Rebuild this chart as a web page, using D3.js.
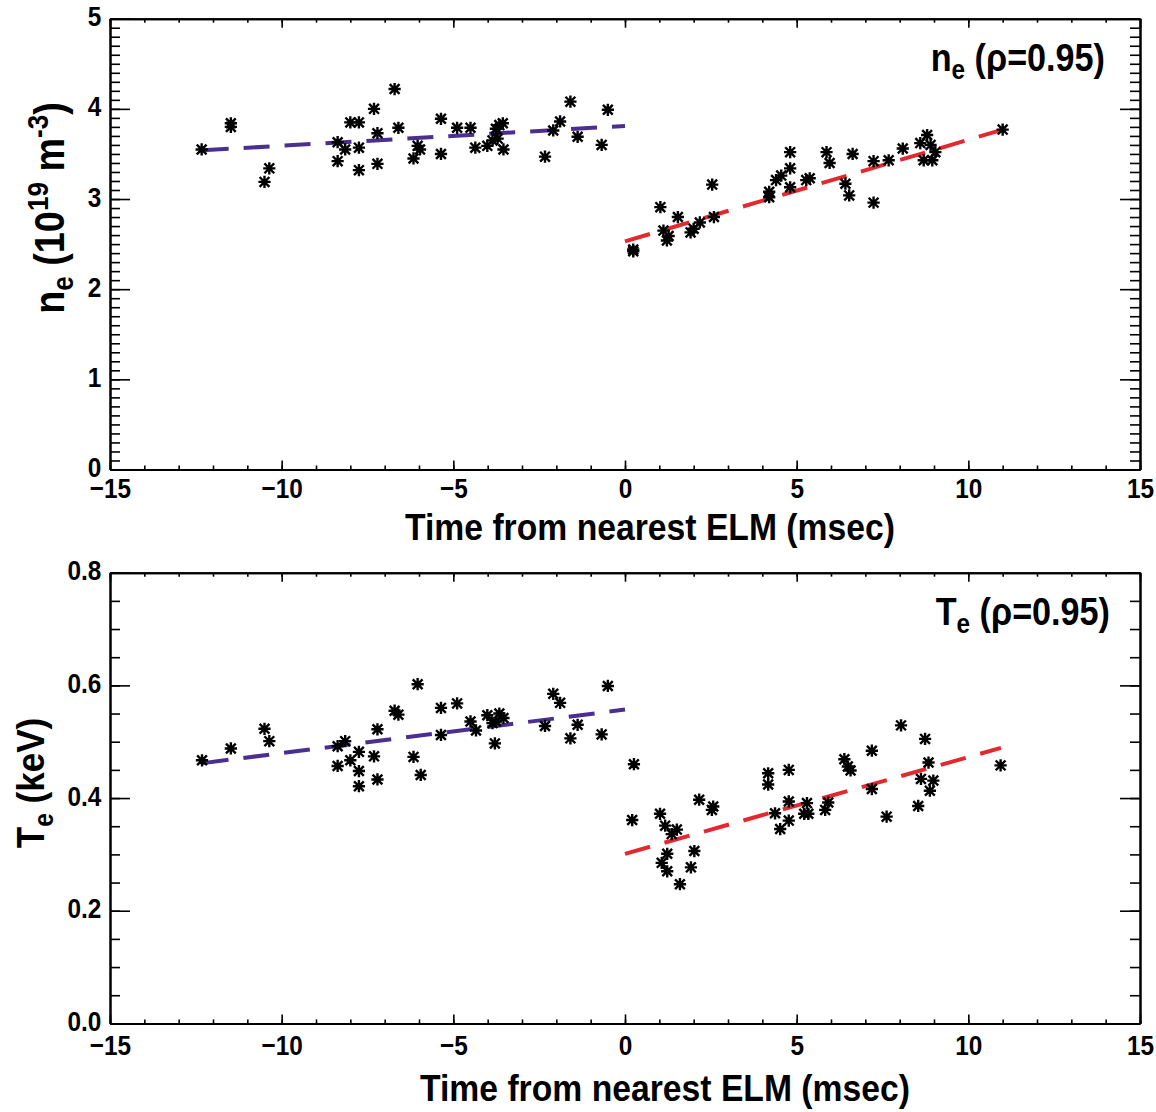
<!DOCTYPE html>
<html>
<head>
<meta charset="utf-8">
<script src="https://cdn.jsdelivr.net/npm/d3@7"></script>
<style>
  body { margin: 0; background: #fff; }
  text { font-family: "Liberation Sans", Arial, sans-serif; font-weight: bold; }
</style>
</head>
<body>
<script>
// time from nearest ELM (msec) and density (1e19 m^-3), before / after the ELM
const ne_pre_t = [-12.33, -11.48, -11.48, -10.50, -10.36, -8.37, -8.37, -8.15, -8.00, -7.75, -7.75, -7.75, -7.31, -7.21, -7.21, -6.71, -6.60, -6.16, -6.04, -5.97, -5.36, -5.36, -4.89, -4.50, -4.36, -4.01, -3.86, -3.76, -3.66, -3.56, -3.71, -3.54, -2.33, -2.09, -1.89, -1.59, -1.38, -0.68, -0.50];
const ne_pre   = [3.55, 3.80, 3.84, 3.19, 3.34, 3.42, 3.63, 3.55, 3.85, 3.85, 3.57, 3.32, 4.00, 3.73, 3.39, 4.22, 3.79, 3.45, 3.59, 3.55, 3.89, 3.50, 3.79, 3.79, 3.57, 3.59, 3.65, 3.78, 3.82, 3.84, 3.67, 3.55, 3.47, 3.76, 3.86, 4.08, 3.69, 3.60, 3.99];
const ne_post_t = [0.24, 0.24, 1.03, 1.12, 1.27, 1.22, 1.54, 1.91, 2.00, 2.18, 2.54, 2.59, 4.20, 4.20, 4.40, 4.55, 4.81, 4.81, 4.81, 5.28, 5.38, 5.87, 5.96, 6.42, 6.53, 6.63, 7.24, 7.24, 7.68, 8.09, 8.60, 8.80, 8.90, 8.70, 8.95, 9.04, 11.00];
const ne_post   = [2.44, 2.42, 2.91, 2.65, 2.59, 2.54, 2.80, 2.63, 2.67, 2.74, 3.16, 2.80, 3.08, 3.02, 3.21, 3.26, 3.52, 3.34, 3.13, 3.21, 3.23, 3.52, 3.40, 3.17, 3.04, 3.50, 3.42, 2.96, 3.43, 3.56, 3.62, 3.71, 3.60, 3.43, 3.43, 3.52, 3.77];

// electron temperature (keV)
const te_pre_t = [-12.32, -11.48, -10.50, -10.36, -8.37, -8.37, -8.15, -8.00, -7.75, -7.75, -7.75, -7.31, -7.21, -7.21, -6.71, -6.60, -6.16, -6.04, -5.95, -5.36, -5.36, -4.89, -4.50, -4.34, -4.01, -3.86, -3.66, -3.54, -3.79, -3.76, -2.33, -2.09, -1.89, -1.59, -1.38, -0.68, -0.50];
const te_pre   = [0.467, 0.488, 0.523, 0.501, 0.492, 0.457, 0.501, 0.467, 0.482, 0.448, 0.421, 0.474, 0.522, 0.433, 0.555, 0.548, 0.473, 0.602, 0.441, 0.560, 0.512, 0.568, 0.536, 0.520, 0.547, 0.533, 0.550, 0.542, 0.497, 0.536, 0.528, 0.585, 0.569, 0.506, 0.530, 0.513, 0.599];
const te_post_t = [0.26, 0.21, 1.02, 1.17, 1.36, 1.51, 1.23, 1.07, 1.23, 1.60, 1.92, 2.02, 2.16, 2.53, 2.57, 4.17, 4.17, 4.77, 4.37, 4.52, 4.77, 4.77, 5.22, 5.30, 5.34, 5.83, 5.92, 6.39, 6.49, 6.57, 7.19, 7.19, 7.62, 8.04, 8.74, 8.84, 8.62, 8.98, 8.88, 8.54, 10.94];
const te_post   = [0.460, 0.361, 0.372, 0.351, 0.336, 0.344, 0.301, 0.285, 0.270, 0.247, 0.277, 0.306, 0.397, 0.379, 0.385, 0.444, 0.424, 0.450, 0.373, 0.345, 0.394, 0.360, 0.372, 0.391, 0.372, 0.379, 0.392, 0.469, 0.456, 0.449, 0.484, 0.416, 0.367, 0.529, 0.505, 0.463, 0.434, 0.431, 0.413, 0.386, 0.458];

// linear fits (end points)
const ne_fit_pre_t = [-12.3, 0];
const ne_fit_pre   = [3.54, 3.81];
const ne_fit_post_t = [0, 11.0];
const ne_fit_post   = [2.53, 3.77];
const te_fit_pre_t = [-12.3, 0];
const te_fit_pre   = [0.462, 0.557];
const te_fit_post_t = [0, 10.95];
const te_fit_post   = [0.301, 0.489];

// axes
const x_ticks = [-15, -10, -5, 0, 5, 10, 15];
const ne_ticks = [0, 1, 2, 3, 4, 5];
const ne_tick_labels = ["0", "1", "2", "3", "4", "5"];
const te_ticks = [0, 0.2, 0.4, 0.6, 0.8];
const te_tick_labels = ["0.0", "0.2", "0.4", "0.6", "0.8"];
const x_title = "Time from nearest ELM (msec)";

const pre_color = "#4a2f91";
const post_color = "#e3282f";

const width = 1156;
const height = 1112;
const left = 110;
const right = 1140;
const narrow = 0.87;   // squeeze Liberation Sans into a condensed look

const svg = d3.select("body").append("svg").attr("width", width).attr("height", height);

const x_scale = d3.scaleLinear().domain([-15, 15]).range([left, right]);

// IDL style asterisk
const asterisk = {
    draw(context, size) {
        const r = Math.sqrt(size) / 2;
        const d = r * 0.8;
        context.moveTo(-r, 0); context.lineTo(r, 0);
        context.moveTo(0, -r); context.lineTo(0, r);
        context.moveTo(-d, -d); context.lineTo(d, d);
        context.moveTo(-d, d); context.lineTo(d, -d);
    }
};

function drawPanel(p) {
    const y_scale = d3.scaleLinear().domain(p.domain).range([p.bottom, p.top]);
    const g = svg.append("g");

    const minor_y = d3.range(p.domain[0], p.domain[1] + p.minor / 2, p.minor);
    const minor_x = d3.range(-15, 15.5, 1);

    // minor ticks
    g.append("g").attr("transform", `translate(${left},0)`)
        .call(d3.axisLeft(y_scale).tickValues(minor_y).tickSize(-10).tickSizeOuter(0).tickFormat(""));
    g.append("g").attr("transform", `translate(${right},0)`)
        .call(d3.axisRight(y_scale).tickValues(minor_y).tickSize(-10).tickSizeOuter(0).tickFormat(""));
    g.append("g").attr("transform", `translate(0,${p.bottom})`)
        .call(d3.axisBottom(x_scale).tickValues(minor_x).tickSize(-4).tickSizeOuter(0).tickFormat(""));
    g.append("g").attr("transform", `translate(0,${p.top})`)
        .call(d3.axisTop(x_scale).tickValues(minor_x).tickSize(-4).tickSizeOuter(0).tickFormat(""));

    // major ticks
    const yax = g.append("g").attr("class", "lab").attr("transform", `translate(${left},0)`)
        .call(d3.axisLeft(y_scale).tickValues(p.ticks).tickSize(-20).tickSizeOuter(0).tickPadding(10)
            .tickFormat((d, i) => p.labels[i]));
    g.append("g").attr("transform", `translate(${right},0)`)
        .call(d3.axisRight(y_scale).tickValues(p.ticks).tickSize(-20).tickSizeOuter(0).tickFormat(""));
    g.append("g").attr("class", "lab").attr("transform", `translate(0,${p.bottom})`)
        .call(d3.axisBottom(x_scale).tickValues(x_ticks).tickSize(-9).tickSizeOuter(0).tickPadding(p.xpad));
    g.append("g").attr("transform", `translate(0,${p.top})`)
        .call(d3.axisTop(x_scale).tickValues(x_ticks).tickSize(-9).tickSizeOuter(0).tickFormat(""));

    g.selectAll(".domain").attr("stroke", "#000").attr("stroke-width", 2);
    g.selectAll(".tick line").attr("stroke", "#000").attr("stroke-width", 1.6);
    g.selectAll(".lab text")
        .attr("fill", "#000")
        .attr("transform", `scale(${narrow},1)`)
        .style("font-size", "28px")
        .style("font-family", null);
    yax.selectAll("text").attr("dy", "0.25em");

    // fits
    const line = d3.line().x(d => x_scale(d[0])).y(d => y_scale(d[1]));
    [[p.fit_pre_t, p.fit_pre, pre_color], [p.fit_post_t, p.fit_post, post_color]].forEach(([ts, vs, c]) => {
        g.append("path")
            .datum(d3.zip(ts, vs))
            .attr("fill", "none")
            .attr("stroke", c)
            .attr("stroke-width", 4)
            .attr("stroke-dasharray", "26,15")
            .attr("d", line);
    });

    // points
    const pts = d3.zip(p.pre_t, p.pre).concat(d3.zip(p.post_t, p.post));
    g.selectAll(".pt")
        .data(pts)
        .enter()
        .append("path")
        .attr("class", "pt")
        .attr("transform", d => `translate(${x_scale(d[0])},${y_scale(d[1])})`)
        .attr("d", d3.symbol(asterisk, 150))
        .attr("fill", "none")
        .attr("stroke", "#000")
        .attr("stroke-width", 2.4);

    // x axis title
    g.append("text")
        .attr("x", p.title_x)
        .attr("y", p.bottom + p.title_dy)
        .attr("text-anchor", "middle")
        .attr("textLength", 490)
        .attr("lengthAdjust", "spacingAndGlyphs")
        .style("font-size", "36px")
        .text(x_title);

    // y axis title
    const yt = g.append("text")
        .attr("transform", `translate(${p.ylab_x},${p.ylab_y}) rotate(-90) scale(0.9,1)`)
        .attr("text-anchor", "middle")
        .style("font-size", p.ylab_size + "px");
    p.ylab(yt, Math.round(p.ylab_size * 0.7));

    // panel tag
    const tag = g.append("text")
        .attr("transform", `translate(${p.tag_x},${p.top + 52}) scale(0.9,1)`)
        .attr("text-anchor", "end")
        .style("font-size", "38px");
    tag.append("tspan").text(p.tag);
    tag.append("tspan").attr("dy", 8).style("font-size", "27px").text("e");
    tag.append("tspan").attr("dy", -8).text(" (ρ=0.95)");
}

drawPanel({
    domain: [0, 5], top: 18.7, bottom: 469.5, minor: 0.1,
    ticks: ne_ticks, labels: ne_tick_labels,
    pre_t: ne_pre_t, pre: ne_pre, post_t: ne_post_t, post: ne_post,
    fit_pre_t: ne_fit_pre_t, fit_pre: ne_fit_pre, fit_post_t: ne_fit_post_t, fit_post: ne_fit_post,
    xpad: 9, title_x: 650, title_dy: 70, ylab_x: 64, ylab_y: 208, ylab_size: 42, tag: "n", tag_x: 1105,
    ylab: (t, s) => {
        t.append("tspan").text("n");
        t.append("tspan").attr("dy", 9).style("font-size", s + "px").text("e");
        t.append("tspan").attr("dy", -9).text(" (10");
        t.append("tspan").attr("dy", -16).style("font-size", s + "px").text("19");
        t.append("tspan").attr("dy", 16).text(" m");
        t.append("tspan").attr("dy", -16).style("font-size", s + "px").text("-3");
        t.append("tspan").attr("dy", 16).text(")");
    }
});

drawPanel({
    domain: [0, 0.8], top: 572.7, bottom: 1023.4, minor: 0.05,
    ticks: te_ticks, labels: te_tick_labels,
    pre_t: te_pre_t, pre: te_pre, post_t: te_post_t, post: te_post,
    fit_pre_t: te_fit_pre_t, fit_pre: te_fit_pre, fit_post_t: te_fit_post_t, fit_post: te_fit_post,
    xpad: 12, title_x: 665, title_dy: 78, ylab_x: 44, ylab_y: 783, ylab_size: 39, tag: "T", tag_x: 1110,
    ylab: (t, s) => {
        t.append("tspan").text("T");
        t.append("tspan").attr("dy", 9).style("font-size", s + "px").text("e");
        t.append("tspan").attr("dy", -9).text(" (keV)");
    }
});
</script>
</body>
</html>
